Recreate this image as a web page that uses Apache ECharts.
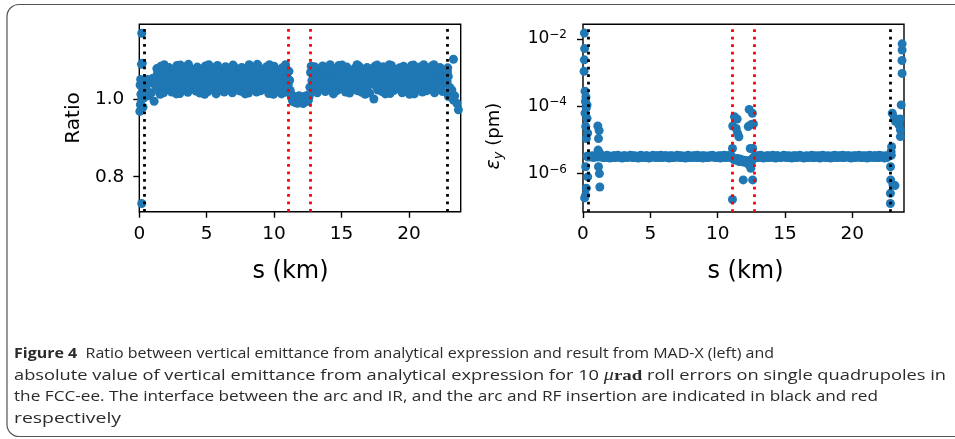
<!DOCTYPE html>
<html>
<head>
<meta charset="utf-8">
<script src="https://cdn.jsdelivr.net/npm/echarts@6/dist/echarts.min.js"></script>
<style>
  html, body { margin: 0; padding: 0; background: #fff; }
  #chart { width: 955px; height: 439px; }
</style>
</head>
<body>
<div id="chart"></div>
<script>
// Quadrupole positions along the half ring (km), first family
const sArc = [
  0.5,0.6,0.7,0.8,0.9,1.0,1.1,1.2,1.3,1.4,
  1.5,1.6,1.7,1.8,1.9,2.0,2.1,2.2,2.3,2.4,
  2.5,2.6,2.7,2.8,2.9,3.0,3.1,3.2,3.3,3.4,
  3.5,3.6,3.7,3.8,3.9,4.0,4.1,4.2,4.3,4.4,
  4.5,4.6,4.7,4.8,4.9,5.0,5.1,5.2,5.3,5.4,
  5.5,5.6,5.7,5.8,5.9,6.0,6.1,6.2,6.3,6.4,
  6.5,6.6,6.7,6.8,6.9,7.0,7.1,7.2,7.3,7.4,
  7.5,7.6,7.7,7.8,7.9,8.0,8.1,8.2,8.3,8.4,
  8.5,8.6,8.7,8.8,8.9,9.0,9.1,9.2,9.3,9.4,
  9.5,9.6,9.7,9.8,9.9,10.0,10.1,10.2,10.3,10.4,
  10.5,10.6,10.7,10.8,10.9,11.0,11.1,11.2,11.3,11.4,
  11.5,11.6,11.7,11.8,11.9,12.0,12.1,12.2,12.3,12.4,
  12.5,12.6,12.7,12.8,12.9,13.0,13.1,13.2,13.3,13.4,
  13.5,13.6,13.7,13.8,13.9,14.0,14.1,14.2,14.3,14.4,
  14.5,14.6,14.7,14.8,14.9,15.0,15.1,15.2,15.3,15.4,
  15.5,15.6,15.7,15.8,15.9,16.0,16.1,16.2,16.3,16.4,
  16.5,16.6,16.7,16.8,16.9,17.0,17.1,17.2,17.3,17.4,
  17.5,17.6,17.7,17.8,17.9,18.0,18.1,18.2,18.3,18.4,
  18.5,18.6,18.7,18.8,18.9,19.0,19.1,19.2,19.3,19.4,
  19.5,19.6,19.7,19.8,19.9,20.0,20.1,20.2,20.3,20.4,
  20.5,20.6,20.7,20.8,20.9,21.0,21.1,21.2,21.3,21.4,
  21.5,21.6,21.7,21.8,21.9,22.0,22.1,22.2,22.3,22.4,
  22.5,22.6,22.7
];

// Ratio analytical / MAD-X for the first family
const ratioArc = [
  // 0.5 - 1.2
  1.028,1.050,1.008,1.042,1.016,1.053,0.994,1.034,
  // 1.3 - 11.0
  1.078,1.052,1.021,1.084,1.047,1.016,1.074,1.058,1.026,1.081,
  1.049,1.018,1.076,1.055,1.029,1.086,1.046,1.014,1.072,1.059,
  1.024,1.083,1.051,1.017,1.079,1.045,1.027,1.075,1.057,1.020,
  1.082,1.048,1.015,1.077,1.054,1.025,1.085,1.044,1.019,1.073,
  1.056,1.028,1.080,1.050,1.013,1.086,1.047,1.022,1.074,1.060,
  1.018,1.083,1.052,1.026,1.078,1.045,1.016,1.085,1.055,1.023,
  1.076,1.049,1.020,1.081,1.058,1.028,1.073,1.046,1.015,1.084,
  1.053,1.024,1.079,1.044,1.018,1.086,1.057,1.021,1.075,1.050,
  1.027,1.082,1.047,1.014,1.077,1.054,1.025,1.084,1.048,1.019,
  1.074,1.056,1.029,1.080,1.045,1.017,1.078,1.052,
  // 11.1
  1.071,
  // 11.2 - 12.6 (RF insertion)
  1.022,1.004,0.993,1.001,0.990,0.998,1.003,0.992,0.996,1.000,0.991,0.997,1.002,0.994,1.006,
  // 12.7
  1.068,
  // 12.8 - 22.7
  1.047,1.020,1.083,1.055,1.016,1.077,1.049,1.028,1.085,1.053,
  1.019,1.074,1.046,1.024,1.081,1.058,1.013,1.078,1.051,1.022,
  1.086,1.044,1.027,1.075,1.056,1.018,1.082,1.048,1.015,1.073,
  1.059,1.025,1.079,1.050,1.021,1.084,1.045,1.017,1.076,1.054,
  1.028,1.081,1.047,1.015,1.077,1.056,1.000,1.085,1.043,1.023,
  1.074,1.052,1.019,1.083,1.046,1.026,1.079,1.057,1.014,1.086,
  1.049,1.022,1.075,1.055,1.029,1.080,1.044,1.016,1.084,1.051,
  1.020,1.077,1.058,1.024,1.086,1.047,1.013,1.073,1.053,1.027,
  1.082,1.045,1.018,1.088,1.056,1.021,1.078,1.050,1.025,1.085,
  1.048,1.016,1.076,1.054,1.028,1.081,1.046,1.019,1.074,1.057
];

// Vertical emittance (pm) for the first family
const emitArc = [
  // 0.5 - 1.2
  3.3e-6,3.1e-6,3.4e-6,3.0e-6,3.2e-6,3.5e-6,3.1e-6,3.3e-6,
  // 1.3 - 11.0
  3.2e-6,3.4e-6,3.0e-6,3.3e-6,3.1e-6,3.5e-6,3.2e-6,2.9e-6,3.3e-6,3.1e-6,
  3.4e-6,3.0e-6,3.2e-6,3.5e-6,3.1e-6,3.3e-6,2.9e-6,3.2e-6,3.4e-6,3.0e-6,
  3.3e-6,3.1e-6,3.5e-6,3.2e-6,3.0e-6,3.4e-6,3.1e-6,3.3e-6,2.9e-6,3.2e-6,
  3.5e-6,3.1e-6,3.3e-6,3.0e-6,3.4e-6,3.2e-6,2.9e-6,3.3e-6,3.1e-6,3.5e-6,
  3.2e-6,3.0e-6,3.4e-6,3.1e-6,3.3e-6,3.5e-6,3.0e-6,3.2e-6,3.4e-6,3.1e-6,
  3.3e-6,2.9e-6,3.2e-6,3.4e-6,3.0e-6,3.3e-6,3.1e-6,3.5e-6,3.2e-6,3.0e-6,
  3.4e-6,3.1e-6,3.3e-6,2.9e-6,3.2e-6,3.5e-6,3.1e-6,3.3e-6,3.0e-6,3.4e-6,
  3.2e-6,3.0e-6,3.5e-6,3.1e-6,3.3e-6,3.2e-6,2.9e-6,3.4e-6,3.1e-6,3.3e-6,
  3.0e-6,3.4e-6,3.2e-6,3.5e-6,3.1e-6,3.3e-6,3.0e-6,3.2e-6,3.4e-6,2.9e-6,
  3.3e-6,3.1e-6,3.5e-6,3.2e-6,3.0e-6,3.4e-6,3.1e-6,3.3e-6,
  // 11.1
  3.0e-6,
  // 11.2 - 12.6 (RF insertion)
  2.6e-6,2.8e-6,2.5e-6,2.7e-6,2.3e-6,2.6e-6,2.4e-6,2.2e-6,2.5e-6,2.3e-6,2.1e-6,1.9e-6,2.4e-6,2.2e-6,2.6e-6,
  // 12.7
  3.1e-6,
  // 12.8 - 22.7
  3.3e-6,3.0e-6,3.4e-6,3.2e-6,3.5e-6,3.1e-6,2.9e-6,3.3e-6,3.2e-6,3.4e-6,
  3.0e-6,3.3e-6,3.1e-6,3.5e-6,3.2e-6,2.9e-6,3.4e-6,3.1e-6,3.3e-6,3.0e-6,
  3.2e-6,3.5e-6,3.1e-6,3.3e-6,3.0e-6,3.4e-6,3.2e-6,2.9e-6,3.3e-6,3.1e-6,
  3.4e-6,3.0e-6,3.2e-6,3.5e-6,3.1e-6,3.3e-6,2.9e-6,3.2e-6,3.4e-6,3.0e-6,
  3.3e-6,3.1e-6,3.5e-6,3.2e-6,3.0e-6,3.4e-6,3.1e-6,3.3e-6,2.9e-6,3.2e-6,
  3.5e-6,3.1e-6,3.3e-6,3.0e-6,3.4e-6,3.2e-6,2.9e-6,3.3e-6,3.1e-6,3.5e-6,
  3.2e-6,3.0e-6,3.4e-6,3.1e-6,3.3e-6,3.5e-6,3.0e-6,3.2e-6,3.4e-6,3.1e-6,
  3.3e-6,2.9e-6,3.2e-6,3.4e-6,3.0e-6,3.3e-6,3.1e-6,3.5e-6,3.2e-6,3.0e-6,
  3.4e-6,3.1e-6,3.3e-6,2.9e-6,3.2e-6,3.5e-6,3.1e-6,3.3e-6,3.0e-6,3.4e-6,
  3.2e-6,3.0e-6,3.5e-6,3.1e-6,3.3e-6,3.2e-6,2.9e-6,3.4e-6,3.1e-6,3.3e-6
];

// Quadrupole positions (km), second family between those of the first
const sMid = [
  1.35,1.45,1.55,1.65,1.75,1.85,1.95,2.05,2.15,2.25,
  2.35,2.45,2.55,2.65,2.75,2.85,2.95,3.05,3.15,3.25,
  3.35,3.45,3.55,3.65,3.75,3.85,3.95,4.05,4.15,4.25,
  4.35,4.45,4.55,4.65,4.75,4.85,4.95,5.05,5.15,5.25,
  5.35,5.45,5.55,5.65,5.75,5.85,5.95,6.05,6.15,6.25,
  6.35,6.45,6.55,6.65,6.75,6.85,6.95,7.05,7.15,7.25,
  7.35,7.45,7.55,7.65,7.75,7.85,7.95,8.05,8.15,8.25,
  8.35,8.45,8.55,8.65,8.75,8.85,8.95,9.05,9.15,9.25,
  9.35,9.45,9.55,9.65,9.75,9.85,9.95,10.05,10.15,10.25,
  10.35,10.45,10.55,10.65,10.75,10.85,10.95,11.05,11.15,11.25,
  11.35,11.45,11.55,11.65,11.75,11.85,11.95,12.05,12.15,12.25,
  12.35,12.45,12.55,12.65,12.75,12.85,12.95,13.05,13.15,13.25,
  13.35,13.45,13.55,13.65,13.75,13.85,13.95,14.05,14.15,14.25,
  14.35,14.45,14.55,14.65,14.75,14.85,14.95,15.05,15.15,15.25,
  15.35,15.45,15.55,15.65,15.75,15.85,15.95,16.05,16.15,16.25,
  16.35,16.45,16.55,16.65,16.75,16.85,16.95,17.05,17.15,17.25,
  17.35,17.45,17.55,17.65,17.75,17.85,17.95,18.05,18.15,18.25,
  18.35,18.45,18.55,18.65,18.75,18.85,18.95,19.05,19.15,19.25,
  19.35,19.45,19.55,19.65,19.75,19.85,19.95,20.05,20.15,20.25,
  20.35,20.45,20.55,20.65,20.75,20.85,20.95,21.05,21.15,21.25,
  21.35,21.45,21.55,21.65,21.75,21.85,21.95,22.05,22.15,22.25,
  22.35,22.45,22.55,22.65
];

// Ratio analytical / MAD-X for the second family
const ratioMid = [
  // 1.35 - 11.05
  1.066,1.036,1.012,1.068,1.033,1.088,1.064,1.039,1.050,1.067,
  1.035,1.062,1.065,1.040,1.013,1.068,1.031,1.087,1.066,1.037,
  1.064,1.069,1.034,1.089,1.062,1.038,1.065,1.066,1.035,1.051,
  1.065,1.032,1.063,1.066,1.038,1.012,1.063,1.033,1.088,1.064,
  1.041,1.066,1.065,1.034,1.061,1.067,1.036,1.049,1.065,1.040,
  1.050,1.067,1.038,1.064,1.063,1.032,1.087,1.067,1.037,1.052,
  1.063,1.035,1.068,1.065,1.041,1.013,1.062,1.031,1.088,1.067,
  1.037,1.064,1.063,1.032,1.089,1.068,1.036,1.049,1.063,1.039,
  1.066,1.062,1.034,1.088,1.066,1.039,1.012,1.065,1.033,1.064,
  1.066,1.040,1.013,1.062,1.031,1.088,1.065,1.036,
  // 11.15 - 12.65 (RF insertion)
  1.048,1.012,0.997,1.007,0.994,1.005,0.989,1.008,0.995,1.004,0.988,1.007,0.993,1.009,0.998,1.030,
  // 12.75 - 22.65
  1.084,1.064,1.037,1.050,1.066,1.033,1.063,1.065,1.040,1.068,
  1.035,1.062,1.065,1.034,1.088,1.066,1.037,1.063,1.066,1.039,
  1.063,1.065,1.036,1.087,1.064,1.033,1.066,1.064,1.038,1.068,
  1.032,1.062,1.066,1.037,1.088,1.062,1.035,1.067,1.063,1.040,
  1.012,1.064,1.034,1.062,1.067,1.039,1.050,1.064,1.033,1.087,
  1.065,1.036,1.066,1.063,1.040,1.013,1.064,1.035,1.088,1.066,
  1.038,1.064,1.067,1.034,1.062,1.066,1.040,1.051,1.063,1.033,
  1.066,1.065,1.039,1.012,1.063,1.036,1.087,1.066,1.037,1.064,
  1.063,1.034,1.051,1.066,1.040,1.064,1.065,1.033,1.062,1.068,
  1.036,1.088,1.063,1.039,1.067,1.065,1.034,1.062,1.066,1.040
];

// Vertical emittance (pm) for the second family
const emitMid = [
  // 1.35 - 11.05
  3.1e-6,3.3e-6,3.2e-6,3.0e-6,3.4e-6,3.2e-6,3.1e-6,3.3e-6,3.0e-6,3.2e-6,
  3.4e-6,3.1e-6,3.3e-6,3.2e-6,3.0e-6,3.3e-6,3.1e-6,3.4e-6,3.2e-6,3.0e-6,
  3.2e-6,3.3e-6,3.1e-6,3.4e-6,3.0e-6,3.2e-6,3.3e-6,3.1e-6,3.2e-6,3.4e-6,
  3.0e-6,3.3e-6,3.2e-6,3.1e-6,3.4e-6,3.2e-6,3.0e-6,3.3e-6,3.1e-6,3.2e-6,
  3.3e-6,3.1e-6,3.4e-6,3.0e-6,3.2e-6,3.3e-6,3.1e-6,3.2e-6,3.4e-6,3.0e-6,
  3.2e-6,3.4e-6,3.1e-6,3.3e-6,3.0e-6,3.2e-6,3.3e-6,3.1e-6,3.4e-6,3.2e-6,
  3.0e-6,3.3e-6,3.2e-6,3.1e-6,3.4e-6,3.0e-6,3.2e-6,3.3e-6,3.1e-6,3.2e-6,
  3.4e-6,3.1e-6,3.3e-6,3.0e-6,3.2e-6,3.4e-6,3.1e-6,3.2e-6,3.3e-6,3.0e-6,
  3.2e-6,3.3e-6,3.1e-6,3.4e-6,3.2e-6,3.0e-6,3.3e-6,3.1e-6,3.2e-6,3.4e-6,
  3.1e-6,3.3e-6,3.0e-6,3.2e-6,3.4e-6,3.1e-6,3.3e-6,3.2e-6,
  // 11.15 - 12.65 (RF insertion)
  2.9e-6,2.7e-6,2.6e-6,2.8e-6,2.4e-6,2.7e-6,2.5e-6,2.3e-6,2.4e-6,2.2e-6,2.4e-6,2.0e-6,2.3e-6,2.5e-6,2.7e-6,2.9e-6,
  // 12.75 - 22.65
  3.2e-6,3.1e-6,3.3e-6,3.0e-6,3.4e-6,3.2e-6,3.1e-6,3.3e-6,3.0e-6,3.2e-6,
  3.4e-6,3.1e-6,3.3e-6,3.2e-6,3.0e-6,3.3e-6,3.1e-6,3.4e-6,3.2e-6,3.0e-6,
  3.2e-6,3.3e-6,3.1e-6,3.4e-6,3.0e-6,3.2e-6,3.3e-6,3.1e-6,3.2e-6,3.4e-6,
  3.0e-6,3.3e-6,3.2e-6,3.1e-6,3.4e-6,3.2e-6,3.0e-6,3.3e-6,3.1e-6,3.2e-6,
  3.3e-6,3.1e-6,3.4e-6,3.0e-6,3.2e-6,3.3e-6,3.1e-6,3.2e-6,3.4e-6,3.0e-6,
  3.2e-6,3.4e-6,3.1e-6,3.3e-6,3.0e-6,3.2e-6,3.3e-6,3.1e-6,3.4e-6,3.2e-6,
  3.0e-6,3.3e-6,3.2e-6,3.1e-6,3.4e-6,3.0e-6,3.2e-6,3.3e-6,3.1e-6,3.2e-6,
  3.4e-6,3.1e-6,3.3e-6,3.0e-6,3.2e-6,3.4e-6,3.1e-6,3.2e-6,3.3e-6,3.0e-6,
  3.2e-6,3.3e-6,3.1e-6,3.4e-6,3.2e-6,3.0e-6,3.3e-6,3.1e-6,3.2e-6,3.4e-6,
  3.1e-6,3.3e-6,3.0e-6,3.2e-6,3.4e-6,3.1e-6,3.3e-6,3.2e-6,3.0e-6,3.3e-6
];

// Quadrupoles in the interaction regions: [s (km), ratio]
const ratioIR = [
  [0.18,1.169],[0.22,1.092],[0.16,1.089],[0.18,0.731],
  [0.06,1.036],[0.12,1.012],[0.08,0.985],[0.04,0.968],[0.16,0.998],[0.24,1.044],
  [0.30,1.021],[0.10,1.050],[0.36,1.003],[0.42,1.048],[0.28,0.979],
  [22.86,1.070],[22.83,1.045],[22.92,1.058],[23.18,1.023],[22.93,1.006],[23.30,0.997],
  [23.30,1.102],[23.55,0.989],[23.67,0.972],[23.02,1.030],[23.10,1.012],[22.88,1.080],[23.40,1.008]
];

// Quadrupoles near the IR and RF interfaces: [s (km), emittance (pm)]
const emitIR = [
  [0.10,1.5e-2],[0.12,5.2e-3],[0.10,2.4e-3],[0.08,1.1e-3],[0.15,2.8e-4],[0.22,1.9e-4],
  [0.18,1.4e-4],[0.30,1.1e-4],[0.25,9.0e-5],[0.15,6.2e-5],[0.30,4.4e-5],[0.20,2.5e-5],
  [0.35,1.6e-5],[0.25,1.1e-5],[0.30,3.3e-6],[0.38,3.1e-6],[0.20,1.6e-6],[0.35,8.0e-7],
  [0.25,3.7e-7],[0.20,2.3e-7],[0.12,1.9e-7],
  [1.10,2.6e-5],[1.20,1.9e-5],[1.15,1.1e-5],[1.12,5.0e-6],[1.22,4.2e-6],[1.15,1.6e-6],
  [1.22,1.0e-6],[1.25,4.0e-7],
  [11.10,1.7e-7],[11.10,5.6e-6],[11.12,2.6e-5],[11.25,4.9e-5],[11.45,4.2e-5],[11.38,2.2e-5],
  [11.48,1.6e-5],[11.58,1.25e-5],[11.90,6.5e-7],[11.78,2.6e-6],[12.34,8.1e-5],[12.58,6.2e-5],
  [12.27,2.5e-5],[12.50,2.9e-5],[12.42,5.6e-6],[12.60,5.6e-6],[12.46,1.45e-6],[12.60,6.5e-7],
  [12.66,3.0e-5],
  [22.83,1.3e-7],[22.83,2.6e-7],[22.85,6.5e-7],[22.84,1.6e-6],[22.88,4.5e-6],[22.92,6.3e-6],
  [23.02,4.7e-7],[23.17,4.4e-7],[22.97,6.2e-5],[23.12,4.5e-5],[23.20,3.6e-5],[23.40,3.9e-5],
  [23.56,4.2e-5],[23.46,2.8e-5],[23.57,2.0e-5],[23.57,1.26e-5],[23.63,1.1e-4],[23.70,7.2e-3],
  [23.70,4.7e-3],[23.69,2.3e-3],[23.70,9.5e-4],[22.90,3.5e-6]
];

// Arc / IR and arc / RF interfaces (km)
const irEdges = [0.40, 22.83];
const rfEdges = [11.08, 12.69];

// Tick positions
const sTicks = [0, 5, 10, 15, 20];
const ratioTicks = [0.8, 1.0];
const emitTicks = [1e-6, 1e-4, 1e-2];

// Caption
const captionLines = [
  [['b', 'Figure 4'], ['t', '  Ratio between vertical emittance from analytical expression and result from MAD-X (left) and']],
  [['t', 'absolute value of vertical emittance from analytical expression for 10 '], ['mu', 'μ'], ['rad', 'rad'], ['t', ' roll errors on single quadrupoles in']],
  [['t', 'the FCC-ee. The interface between the arc and IR, and the arc and RF insertion are indicated in black and red']],
  [['t', 'respectively']]
];

// ---------------------------------------------------------------
const FONT = 'DejaVu Sans';
const BLUE = '#1f77b4';
const DOT = 9;
const TEXT = '#000';

const pairs = (xs, ys) => xs.map((x, i) => [x, ys[i]]);

function edgeLines() {
  const dash = { width: 2.8, type: [2.8, 4.7], cap: 'butt' };
  return irEdges.map(v => ({ xAxis: v, lineStyle: Object.assign({ color: '#000' }, dash) }))
    .concat(rfEdges.map(v => ({ xAxis: v, lineStyle: Object.assign({ color: '#ff0000' }, dash) })));
}

function sAxis(gridIndex, namePadding) {
  return {
    type: 'value', gridIndex, min: 0, max: 23.84,
    name: 's (km)', nameLocation: 'middle', nameGap: 48,
    nameTextStyle: { fontFamily: FONT, fontSize: 24, color: TEXT, padding: namePadding },
    axisLine: { show: false }, splitLine: { show: false },
    axisTick: { show: true, length: 6, customValues: sTicks, lineStyle: { color: '#000', width: 1.4 } },
    axisLabel: { customValues: sTicks, fontFamily: FONT, fontSize: 18.5, color: TEXT, margin: 13 }
  };
}

function dots(xAxisIndex, data) {
  return { type: 'scatter', xAxisIndex, yAxisIndex: xAxisIndex, data, symbolSize: DOT,
    itemStyle: { color: BLUE, opacity: 1 }, silent: true };
}

// caption layout: each line stretched to its span
const CAP_SIZE = 15;
const capFonts = {
  t: `${CAP_SIZE}px "Open Sans"`,
  b: `bold ${CAP_SIZE}px "Open Sans"`,
  mu: `italic 16.5px "Liberation Serif"`,
  rad: `bold 15.5px "Liberation Serif"`
};
const capEnds = [774, 946, 878, 121];
const capCenters = [354, 375.5, 397, 418.5];
const ctx = document.createElement('canvas').getContext('2d');
function lineWidth(tokens) {
  return tokens.reduce((w, [k, s]) => { ctx.font = capFonts[k]; return w + ctx.measureText(s).width; }, 0);
}
const CAP_COLOR = '#2b2b2b';
const captionGraphics = captionLines.map((tokens, i) => ({
  type: 'text', x: 14, y: capCenters[i], scaleX: (capEnds[i] - 14) / lineWidth(tokens), silent: true,
  style: {
    text: tokens.map(([k, s]) => `{${k}|${s}}`).join(''),
    verticalAlign: 'middle', align: 'left', fill: CAP_COLOR,
    rich: {
      t: { fontFamily: 'Open Sans', fontSize: CAP_SIZE, fill: CAP_COLOR },
      b: { fontFamily: 'Open Sans', fontSize: CAP_SIZE, fontWeight: 'bold', fill: CAP_COLOR },
      mu: { fontFamily: 'Liberation Serif', fontStyle: 'italic', fontSize: 16.5, fill: CAP_COLOR },
      rad: { fontFamily: 'Liberation Serif', fontWeight: 'bold', fontSize: 15.5, fill: CAP_COLOR }
    }
  }
}));

const chart = echarts.init(document.getElementById('chart'), null, { renderer: 'canvas' });
chart.setOption({
  animation: false,
  backgroundColor: '#fff',
  grid: [
    { left: 139.3, top: 24.3, width: 321.4, height: 187.4, show: true, borderColor: '#000', borderWidth: 1.4, backgroundColor: 'transparent' },
    { left: 583, top: 24.3, width: 321, height: 187.7, show: true, borderColor: '#000', borderWidth: 1.4, backgroundColor: 'transparent' }
  ],
  xAxis: [sAxis(0, [0, 19, 0, 0]), sAxis(1, [0, 0, 0, 4])],
  yAxis: [
    {
      type: 'value', gridIndex: 0, min: 0.71, max: 1.192,
      name: 'Ratio', nameLocation: 'middle', nameGap: 56,
      nameTextStyle: { fontFamily: FONT, fontSize: 20, color: TEXT },
      axisLine: { show: false }, splitLine: { show: false },
      axisTick: { show: true, length: 6, customValues: ratioTicks, lineStyle: { color: '#000', width: 1.4 } },
      axisLabel: { customValues: ratioTicks, fontFamily: FONT, fontSize: 18.5, color: TEXT, margin: 15,
        formatter: v => Number(v).toFixed(1) }
    },
    {
      type: 'log', logBase: 10, gridIndex: 1, min: 7.24e-8, max: 2.735e-2,
      name: '{e|ε}{y|y} (pm)', nameLocation: 'middle', nameGap: 78,
      nameTextStyle: { fontFamily: FONT, fontSize: 18, color: TEXT, padding: [0, 36, 0, 0],
        rich: {
          e: { fontFamily: FONT, fontStyle: 'italic', fontSize: 19, lineHeight: 22 },
          y: { fontFamily: FONT, fontStyle: 'italic', fontSize: 13, lineHeight: 12, verticalAlign: 'bottom' }
        } },
      axisLine: { show: false }, splitLine: { show: false },
      axisTick: { show: true, length: 6, customValues: emitTicks, lineStyle: { color: '#000', width: 1.4 } },
      axisLabel: {
        customValues: emitTicks, fontFamily: FONT, color: TEXT, margin: 16,
        formatter: v => '{b|10}{s|−' + Math.abs(Math.round(Math.log10(v))) + '}',
        rich: {
          b: { fontFamily: FONT, fontSize: 17, lineHeight: 20, color: TEXT },
          s: { fontFamily: FONT, fontSize: 12, lineHeight: 10, verticalAlign: 'top', color: TEXT }
        }
      }
    }
  ],
  series: [
    Object.assign(dots(0, pairs(sArc, ratioArc)), {
      markLine: { symbol: ['none', 'none'], silent: true, label: { show: false }, z: 5, data: edgeLines() } }),
    dots(0, pairs(sMid, ratioMid)),
    dots(0, ratioIR),
    Object.assign(dots(1, pairs(sArc, emitArc)), {
      markLine: { symbol: ['none', 'none'], silent: true, label: { show: false }, z: 5, data: edgeLines() } }),
    dots(1, pairs(sMid, emitMid)),
    dots(1, emitIR)
  ],
  graphic: [
    { type: 'rect', z: -10, silent: true,
      shape: { x: 7, y: 4.5, width: 1000, height: 432, r: 12 },
      style: { fill: 'none', stroke: '#555', lineWidth: 1.2 } }
  ].concat(captionGraphics)
});
</script>
</body>
</html>
